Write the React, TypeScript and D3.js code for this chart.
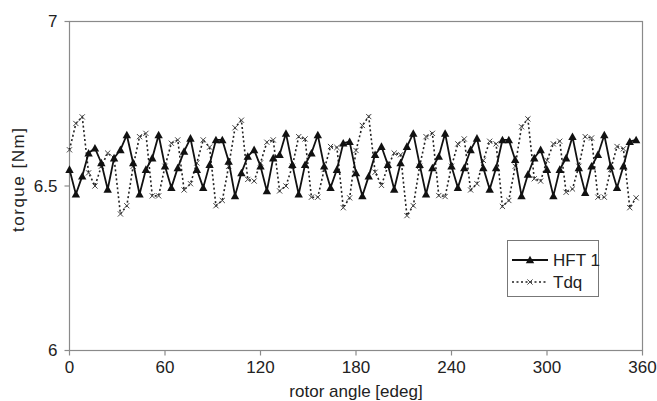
import React from "react";
import * as d3 from "d3";

const angles: number[] = d3.range(0, 360, 4);

const hft1: number[] = [
  6.55, 6.475, 6.53, 6.6, 6.615, 6.57, 6.49, 6.585, 6.61, 6.655,
  6.57, 6.475, 6.55, 6.585, 6.655, 6.56, 6.495, 6.555, 6.605, 6.645,
  6.55, 6.495, 6.565, 6.64, 6.64, 6.575, 6.47, 6.54, 6.59, 6.61,
  6.56, 6.485, 6.585, 6.595, 6.66, 6.565, 6.475, 6.565, 6.6, 6.655,
  6.56, 6.495, 6.55, 6.63, 6.635, 6.54, 6.47, 6.53, 6.595, 6.62,
  6.565, 6.49, 6.57, 6.62, 6.66, 6.565, 6.475, 6.555, 6.59, 6.66,
  6.56, 6.495, 6.555, 6.61, 6.645, 6.555, 6.49, 6.555, 6.64, 6.64,
  6.58, 6.47, 6.535, 6.585, 6.61, 6.55, 6.47, 6.55, 6.585, 6.65,
  6.555, 6.48, 6.56, 6.595, 6.655, 6.56, 6.495, 6.56, 6.635, 6.64,
];

const tdq: number[] = [
  6.61, 6.69, 6.71, 6.54, 6.5, 6.56, 6.6, 6.585, 6.415, 6.44,
  6.56, 6.65, 6.66, 6.47, 6.47, 6.56, 6.63, 6.64, 6.488, 6.507,
  6.57, 6.64, 6.618, 6.44, 6.456, 6.56, 6.677, 6.7, 6.52, 6.515,
  6.57, 6.633, 6.64, 6.485, 6.5, 6.56, 6.65, 6.643, 6.466, 6.466,
  6.55, 6.62, 6.617, 6.434, 6.464, 6.608, 6.684, 6.711, 6.542, 6.502,
  6.56, 6.6, 6.595, 6.41, 6.44, 6.56, 6.65, 6.66, 6.471, 6.468,
  6.56, 6.628, 6.643, 6.488, 6.507, 6.578, 6.636, 6.628, 6.438, 6.456,
  6.56, 6.68, 6.704, 6.522, 6.515, 6.578, 6.628, 6.636, 6.481, 6.491,
  6.56, 6.65, 6.646, 6.466, 6.466, 6.55, 6.62, 6.613, 6.434, 6.464,
];

const xTicks: number[] = [0, 60, 120, 180, 240, 300, 360];
const yTicks: number[] = [6, 6.5, 7];
const seriesNames: string[] = ["HFT 1", "Tdq"];

const W = 657;
const H = 401;
const FONT = "'Liberation Sans', Arial, sans-serif";

export default function App() {
  const x = d3.scaleLinear().domain([0, 360]).range([69.5, 642.5]);
  const y = d3.scaleLinear().domain([6, 7]).range([350.5, 21.5]);
  const line = d3
    .line<number>()
    .x((_, i) => x(angles[i]))
    .y((d) => y(d));

  const tri = (cx: number, cy: number, s = 4.2) =>
    `M${cx},${cy - s}L${cx + s},${cy + s * 0.8}L${cx - s},${cy + s * 0.8}Z`;
  const cross = (cx: number, cy: number, s = 2.6) =>
    `M${cx - s},${cy - s}L${cx + s},${cy + s}M${cx - s},${cy + s}L${cx + s},${cy - s}`;

  const axisColor = "#8a8a8a";
  const [x0, x1] = x.range();
  const [yb, yt] = y.range();

  return (
    <svg
      width={W}
      height={H}
      style={{ position: "absolute", left: 0, top: 0, background: "#fff" }}
      fontFamily={FONT}
    >
      <rect x={x0} y={yt} width={x1 - x0} height={yb - yt} fill="none" stroke={axisColor} strokeWidth={1.2} />
      {yTicks.map((t) => (
        <g key={"y" + t}>
          <line x1={x0 - 5} x2={x0} y1={y(t)} y2={y(t)} stroke={axisColor} strokeWidth={1.2} />
          <text x={x0 - 12} y={y(t)} dy="0.35em" textAnchor="end" fontSize={17} fill="#222">
            {t === 6.5 ? "6.5" : String(t)}
          </text>
        </g>
      ))}
      {xTicks.map((t) => (
        <g key={"x" + t}>
          <line x1={x(t)} x2={x(t)} y1={yb} y2={yb + 5} stroke={axisColor} strokeWidth={1.2} />
          <text x={x(t)} y={yb + 22} textAnchor="middle" fontSize={17} fill="#222">
            {t}
          </text>
        </g>
      ))}
      <text x={(x0 + x1) / 2} y={397} textAnchor="middle" fontSize={17} fill="#222">
        rotor angle [edeg]
      </text>
      <text
        transform={`translate(24,180) rotate(-90)`}
        textAnchor="middle"
        fontSize={17}
        fill="#222"
        textLength={104}
        lengthAdjust="spacing"
      >
        torque [Nm]
      </text>

      <path d={line(tdq) || ""} fill="none" stroke="#222" strokeWidth={1.6} strokeDasharray="2,2.5" />
      {tdq.map((v, i) => (
        <path key={"t" + i} d={cross(x(angles[i]), y(v))} stroke="#444" strokeWidth={1} fill="none" />
      ))}

      <path d={line(hft1) || ""} fill="none" stroke="#111" strokeWidth={1.8} />
      {hft1.map((v, i) => (
        <path key={"h" + i} d={tri(x(angles[i]), y(v))} fill="#111" />
      ))}

      <rect x={507.5} y={240.5} width={91} height={56} fill="#fff" stroke="#777" strokeWidth={1} />
      <line x1={512} x2={548} y1={260} y2={260} stroke="#111" strokeWidth={1.8} />
      <path d={tri(530, 260)} fill="#111" />
      <text x={553} y={260} dy="0.35em" fontSize={17} fill="#222">
        {seriesNames[0]}
      </text>
      <line x1={512} x2={548} y1={282} y2={282} stroke="#222" strokeWidth={1.6} strokeDasharray="2,2.5" />
      <path d={cross(530, 282)} stroke="#444" strokeWidth={1} fill="none" />
      <text x={553} y={282} dy="0.35em" fontSize={17} fill="#222">
        {seriesNames[1]}
      </text>
    </svg>
  );
}
